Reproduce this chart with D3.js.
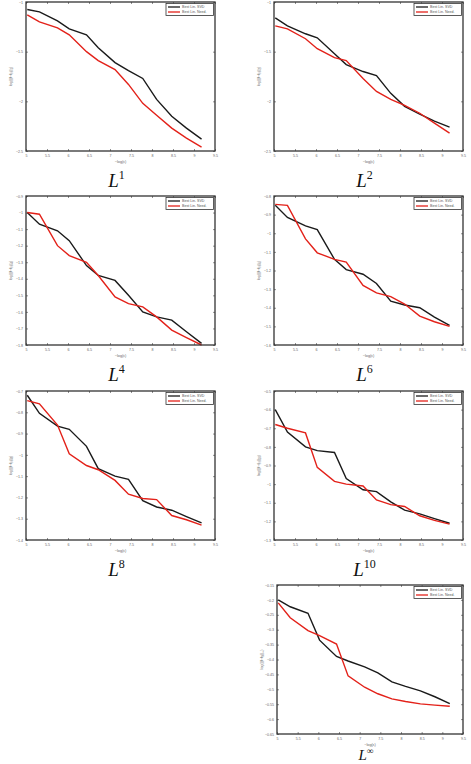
<!DOCTYPE html>
<html>
<head>
<meta charset="utf-8">
<script src="https://cdn.jsdelivr.net/npm/d3@7"></script>
<style>
body { margin: 0; background: #fff; }
text { font-family: "Liberation Sans", Arial, sans-serif; }
</style>
</head>
<body>
<div id="chart"></div>
<script>

// -log(eps) sample points (shared by every panel)
var xVals = [5.03, 5.32, 5.75, 6.03, 6.44, 6.72, 7.12, 7.44, 7.78, 8.11, 8.47, 8.82, 9.18];

// log of the error, best linear SVD vs best linear Need.
var svdL1   = [-1.075, -1.10, -1.19, -1.27, -1.33, -1.46, -1.61, -1.69, -1.77, -1.98, -2.15, -2.27, -2.38];
var needL1  = [-1.13, -1.20, -1.26, -1.33, -1.50, -1.59, -1.68, -1.83, -2.02, -2.14, -2.27, -2.37, -2.46];
var svdL2   = [-1.16, -1.24, -1.32, -1.36, -1.52, -1.63, -1.70, -1.74, -1.92, -2.05, -2.13, -2.20, -2.26];
var needL2  = [-1.24, -1.27, -1.37, -1.47, -1.56, -1.59, -1.77, -1.90, -1.98, -2.04, -2.12, -2.22, -2.32];
var svdL4   = [-1.00, -1.07, -1.11, -1.17, -1.32, -1.38, -1.41, -1.50, -1.60, -1.63, -1.65, -1.72, -1.79];
var needL4  = [-1.00, -1.01, -1.20, -1.26, -1.30, -1.38, -1.51, -1.55, -1.57, -1.63, -1.71, -1.755, -1.80];
var svdL6   = [-0.85, -0.915, -0.96, -0.98, -1.14, -1.195, -1.22, -1.27, -1.365, -1.385, -1.40, -1.45, -1.495];
var needL6  = [-0.845, -0.85, -1.03, -1.105, -1.14, -1.155, -1.28, -1.32, -1.34, -1.38, -1.445, -1.475, -1.50];
var svdL8   = [-0.72, -0.805, -0.865, -0.88, -0.96, -1.065, -1.10, -1.115, -1.215, -1.245, -1.26, -1.29, -1.32];
var needL8  = [-0.745, -0.76, -0.86, -0.995, -1.05, -1.07, -1.12, -1.185, -1.205, -1.21, -1.285, -1.305, -1.33];
var svdL10  = [-0.60, -0.72, -0.80, -0.82, -0.83, -0.97, -1.03, -1.04, -1.095, -1.14, -1.16, -1.185, -1.21];
var needL10 = [-0.68, -0.70, -0.725, -0.91, -0.985, -1.00, -1.01, -1.085, -1.11, -1.12, -1.17, -1.195, -1.215];
var svdLinf = [-0.20, -0.223, -0.245, -0.335, -0.39, -0.405, -0.425, -0.445, -0.475, -0.49, -0.505, -0.525, -0.548];
var needLinf= [-0.21, -0.26, -0.303, -0.32, -0.348, -0.455, -0.493, -0.515, -0.532, -0.541, -0.549, -0.553, -0.557];

var xTicks = [5, 5.5, 6, 6.5, 7, 7.5, 8, 8.5, 9, 9.5];
var yTicksL1  = [-1, -1.5, -2, -2.5];
var yTicksL2  = [-1, -1.5, -2, -2.5];
var yTicksL4  = [-0.9, -1, -1.1, -1.2, -1.3, -1.4, -1.5, -1.6, -1.7, -1.8];
var yTicksL6  = [-0.8, -0.9, -1, -1.1, -1.2, -1.3, -1.4, -1.5, -1.6];
var yTicksL8  = [-0.7, -0.8, -0.9, -1, -1.1, -1.2, -1.3, -1.4];
var yTicksL10 = [-0.5, -0.6, -0.7, -0.8, -0.9, -1, -1.1, -1.2, -1.3];
var yTicksLinf= [-0.15, -0.2, -0.25, -0.3, -0.35, -0.4, -0.45, -0.5, -0.55, -0.6, -0.65];

var norms = ["1", "2", "4", "6", "8", "10", "\u221E"];
var seriesNames = ["Best Lin. SVD", "Best Lin. Need."];
var seriesColors = ["#1a1a1a", "#e32119"];

var panels = [
  {norm: norms[0], svd: svdL1,  need: needL1,  ticks: yTicksL1,  left: 26,  top: 2,   w: 189, cap: 36, fs: 19},
  {norm: norms[1], svd: svdL2,  need: needL2,  ticks: yTicksL2,  left: 274, top: 2,   w: 189, cap: 36, fs: 19},
  {norm: norms[2], svd: svdL4,  need: needL4,  ticks: yTicksL4,  left: 26,  top: 196, w: 189, cap: 36, fs: 19},
  {norm: norms[3], svd: svdL6,  need: needL6,  ticks: yTicksL6,  left: 274, top: 196, w: 189, cap: 36, fs: 19},
  {norm: norms[4], svd: svdL8,  need: needL8,  ticks: yTicksL8,  left: 26,  top: 391, w: 189, cap: 36, fs: 19},
  {norm: norms[5], svd: svdL10, need: needL10, ticks: yTicksL10, left: 274, top: 391, w: 189, cap: 36, fs: 19},
  {norm: norms[6], svd: svdLinf,need: needLinf,ticks: yTicksLinf,left: 277, top: 585, w: 186, cap: 26, fs: 15}
];

var H = 149;

var svg = d3.select("#chart").append("svg")
    .attr("width", 471)
    .attr("height", 764);

panels.forEach(function(p) {

  var g = svg.append("g").attr("transform", "translate(" + p.left + "," + p.top + ")");

  var xScale = d3.scaleLinear().domain([5, 9.5]).range([0, p.w]);
  var yScale = d3.scaleLinear().domain(d3.extent(p.ticks)).range([H, 0]);

  // ticks inward, on all four sides (matlab style)
  g.append("g").attr("transform", "translate(0," + H + ")")
    .call(d3.axisBottom(xScale).tickValues(xTicks).tickSize(-2).tickPadding(3).tickFormat(d3.format("")));
  g.append("g")
    .call(d3.axisTop(xScale).tickValues(xTicks).tickSize(-2).tickFormat(""));
  g.append("g")
    .call(d3.axisLeft(yScale).tickValues(p.ticks).tickSize(-2).tickPadding(3).tickFormat(d3.format("")));
  g.append("g").attr("transform", "translate(" + p.w + ",0)")
    .call(d3.axisRight(yScale).tickValues(p.ticks).tickSize(-2).tickFormat(""));

  g.selectAll(".domain").remove();
  g.selectAll(".tick line").attr("stroke", "#444").attr("stroke-width", 0.6);
  g.selectAll(".tick text").attr("font-size", 3.6).attr("fill", "#666");

  var line = d3.line()
    .x(function(d, i) { return xScale(xVals[i]); })
    .y(function(d) { return yScale(d); });

  g.append("path").datum(p.svd)
    .attr("d", line).attr("fill", "none")
    .attr("stroke", seriesColors[0]).attr("stroke-width", 1.4);
  g.append("path").datum(p.need)
    .attr("d", line).attr("fill", "none")
    .attr("stroke", seriesColors[1]).attr("stroke-width", 1.4);

  // box
  g.append("rect")
    .attr("width", p.w).attr("height", H)
    .attr("fill", "none").attr("stroke", "#333").attr("stroke-width", 1.3);

  // legend
  var lg = g.append("g").attr("transform", "translate(" + (p.w - 49) + ",1.5)");
  lg.append("rect").attr("width", 47.5).attr("height", 12)
    .attr("fill", "#fff").attr("stroke", "#333").attr("stroke-width", 0.8);
  seriesNames.forEach(function(name, i) {
    lg.append("line").attr("x1", 2).attr("x2", 14)
      .attr("y1", 3.5 + i * 5).attr("y2", 3.5 + i * 5)
      .attr("stroke", seriesColors[i]).attr("stroke-width", 1.3);
    lg.append("text").attr("x", 16).attr("y", 4.8 + i * 5)
      .attr("font-size", 3.6).attr("fill", "#555").text(name);
  });

  // axis labels
  g.append("text")
    .attr("x", p.w / 2).attr("y", H + 11.5)
    .attr("text-anchor", "middle").attr("font-size", 3.8).attr("fill", "#666")
    .text("\u2212log(\u03B5)");

  var yl = g.append("text")
    .attr("transform", "translate(-14," + (H / 2) + ") rotate(-90)")
    .attr("text-anchor", "middle").attr("font-size", 3.8).attr("fill", "#666");
  yl.append("tspan").text("log(||f\u2212f");
  yl.append("tspan").attr("dy", 1).attr("font-size", 2.8).text("N");
  yl.append("tspan").attr("dy", -1).text("||");
  yl.append("tspan").attr("dy", 1).attr("font-size", 2.8).text(p.norm);
  yl.append("tspan").attr("dy", -1).text(")");

  // caption
  var cap = g.append("text")
    .attr("x", p.w / 2 - 4).attr("y", H + p.cap)
    .attr("text-anchor", "middle")
    .style("font-family", "'Liberation Serif', 'Times New Roman', serif")
    .style("font-style", "italic")
    .attr("font-size", p.fs).attr("fill", "#111");
  cap.append("tspan").attr("fill", "#111").text("L");
  cap.append("tspan").attr("dy", -p.fs * 0.4).attr("font-size", p.fs * 0.63).attr("fill", "#111")
    .style("font-style", "normal").text(p.norm);
});

</script>
</body>
</html>
